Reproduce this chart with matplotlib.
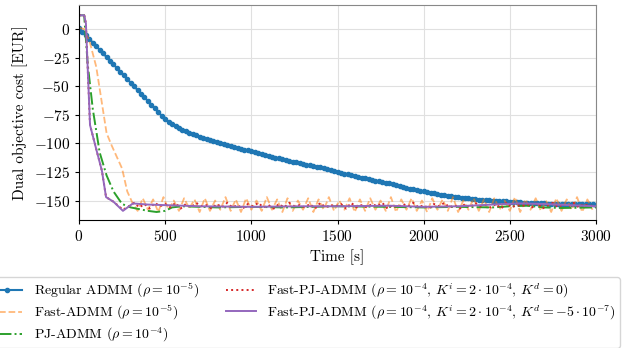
import numpy as np
import matplotlib
matplotlib.use('Agg')
import matplotlib.pyplot as plt

# Regular ADMM, sampled every 20 s
t_reg = np.arange(0, 3001, 20)
cost_reg = [
    1, -2.2, -5.4, -8.6, -11.8, -15, -18.2, -21.4, -24.6, -27.8,
    -31, -34.2, -37.4, -40.6, -43.8, -47, -50.2, -53.4, -56.6, -59.8,
    -63, -66.2, -69.4, -72.6, -75.8, -79,
    -81, -83, -85, -86.5, -88,
    -89.3, -90.5, -91.7, -92.9, -94,
    -95, -96, -97, -98, -99,
    -99.8, -100.6, -101.4, -102.2, -103,
    -103.8, -104.6, -105.4, -106.2, -107,
    -107.8, -108.6, -109.4, -110.2, -111,
    -111.7, -112.4, -113.1, -113.8, -114.5,
    -115.2, -115.9, -116.6, -117.3, -118,
    -118.6, -119.2, -119.8, -120.4, -121,
    -121.8, -122.6, -123.4, -124.2, -125,
    -125.7, -126.4, -127.1, -127.8, -128.5,
    -129.2, -129.9, -130.6, -131.3, -132,
    -132.6, -133.2, -133.8, -134.4, -135,
    -135.8, -136.6, -137.4, -138.2, -139,
    -139.6, -140.2, -140.8, -141.4, -142,
    -142.6, -143.2, -143.8, -144.4, -145,
    -145.4, -145.8, -146.2, -146.6, -147,
    -147.4, -147.8, -148.2, -148.6, -149,
    -149.2, -149.4, -149.6, -149.8, -150,
    -150.2, -150.4, -150.6, -150.8, -151,
    -151.2, -151.4, -151.6, -151.8, -152,
    -152.1, -152.2, -152.3, -152.4, -152.5,
    -152.6, -152.7, -152.8, -152.9, -153,
    -153, -153, -153, -153, -153,
    -153.1, -153.2, -153.3, -153.4, -153.5,
]

# Fast-ADMM: transient, then oscillation sampled every 30 s (340 .. 2980)
t_fast = [0, 30, 60, 100, 130, 160, 190, 220, 250, 280, 310] + list(range(340, 2981, 30))
cost_fast = [1, 0, -10, -33, -62, -91, -102, -112, -122, -142, -152] + [
    -159, -148, -158, -149, -160, -147, -158, -150, -159, -148,
    -157, -149, -160, -148, -159, -150, -158, -147, -159, -149,
    -160, -148, -158, -150, -159, -147, -158, -149, -160, -148,
    -159, -150, -158, -148, -160, -149, -158, -147, -159, -150,
    -158, -148, -160, -149, -159, -148, -158, -150, -159, -147,
    -160, -149, -158, -148, -159, -150, -160, -148, -158, -149,
    -159, -147, -160, -150, -158, -148, -159, -149, -160, -148,
    -158, -150, -159, -147, -160, -149, -158, -148, -159, -150,
    -160, -148, -159, -149, -158, -147, -160, -149, -158,
]

# PJ-ADMM
t_pj = [0, 30, 50, 80, 120, 160, 200, 250, 300, 350, 400, 450, 500, 540, 600,
        800, 1000, 1200, 1500, 1800, 2000, 2200, 2400, 2500, 2600, 2700, 2800, 3000]
cost_pj = [12, 12, -30, -70, -108, -128, -142, -153, -156, -157.5, -159, -160, -159, -156, -155,
           -156, -155.5, -156, -155, -155.5, -156, -155.5, -156, -155, -154.5, -156, -156.5, -156]

# Fast-PJ-ADMM, K^d = 0 (oscillation every 30 s, 320 .. 2990)
t_fpj0 = [0, 30, 40, 64, 100, 133, 157, 200, 255, 290] + list(range(320, 2991, 30))
cost_fpj0 = [12, 12, 5, -84, -105, -124, -147, -151, -158, -155] + [
    -152, -156, -153, -157, -152, -155, -153, -156, -152, -157,
    -153, -156, -152, -155, -154, -157, -153, -156, -152, -156,
    -154, -157, -153, -155, -152, -156, -154, -157, -153, -156,
    -152, -155, -154, -156, -153, -157, -152, -156, -154, -155,
    -153, -157, -152, -156, -154, -156, -153, -155, -152, -157,
    -154, -156, -153, -155, -152, -156, -154, -157, -153, -155,
    -152, -156, -154, -157, -153, -156, -152, -155, -154, -156,
    -153, -157, -152, -156, -154, -155, -153, -156, -152, -157,
    -154, -152, -156, -153, -155, -152, -156, -153, -155, -154,
]

# Fast-PJ-ADMM, K^d = -5e-7
t_fpj = [0, 30, 40, 64, 100, 133, 157, 200, 255, 313, 400, 500, 700, 1000, 1300,
         1500, 1800, 2000, 2200, 2400, 2550, 2700, 2850, 3000]
cost_fpj = [12, 12, 5, -84, -105, -124, -147, -151, -159, -152.5, -153.5, -154, -155, -155.5, -155,
            -155, -154.5, -155.5, -155, -153.5, -152.5, -153, -154, -155]

labels = [
    r'Regular ADMM ($\rho = 10^{-5}$)',
    r'Fast-ADMM ($\rho = 10^{-5}$)',
    r'PJ-ADMM ($\rho = 10^{-4}$)',
    r'Fast-PJ-ADMM ($\rho = 10^{-4}$, $K^i = 2\cdot10^{-4}$, $K^d = 0$)',
    r'Fast-PJ-ADMM ($\rho = 10^{-4}$, $K^i = 2\cdot10^{-4}$, $K^d = -5\cdot10^{-7}$)',
]

plt.rcParams['font.family'] = ['cmr10']
plt.rcParams['mathtext.fontset'] = 'cm'
plt.rcParams['axes.formatter.use_mathtext'] = True
plt.rcParams['axes.unicode_minus'] = True

fig = plt.figure(figsize=(6.28, 3.48), dpi=100)
ax = fig.add_axes([79 / 628, 1 - 220 / 348, (596 - 79) / 628, (220 - 5) / 348])

h1, = ax.plot(t_reg, cost_reg, '-o', color='#1f77b4', lw=1.5, ms=3, label=labels[0])
h2, = ax.plot(t_fast, cost_fast, '--', color='#ff7f0e', alpha=0.55, lw=1.3, label=labels[1])
h3, = ax.plot(t_pj, cost_pj, '-.', color='#2ca02c', lw=1.4, label=labels[2])
h4, = ax.plot(t_fpj0, cost_fpj0, ':', color='#d62728', lw=1.4, label=labels[3])
h5, = ax.plot(t_fpj, cost_fpj, '-', color='#9467bd', lw=1.4, label=labels[4])

ax.set_xlim(0, 3000)
ax.set_ylim(-167, 21)
ax.set_xticks([0, 500, 1000, 1500, 2000, 2500, 3000])
ax.set_yticks([0, -25, -50, -75, -100, -125, -150])
ax.grid(True, color='#e0e0e0', lw=0.8)
ax.set_axisbelow(True)
ax.tick_params(labelsize=11, length=3)
ax.set_xlabel('Time [s]', fontsize=11)
ax.set_ylabel('Dual objective cost [EUR]', fontsize=11)
for s in ['top', 'right']:
    ax.spines[s].set_color('#888888')

fig.legend(handles=[h1, h2, h3, h4, h5], ncol=2, loc='upper right',
           bbox_to_anchor=(620 / 628, 1 - 277 / 348), borderaxespad=0,
           fontsize=10, frameon=True, fancybox=True, edgecolor='#cccccc',
           handlelength=2.15, handletextpad=0.8, columnspacing=2.0,
           labelspacing=0.22, borderpad=0.3)

fig.savefig('out.png', dpi=100)
